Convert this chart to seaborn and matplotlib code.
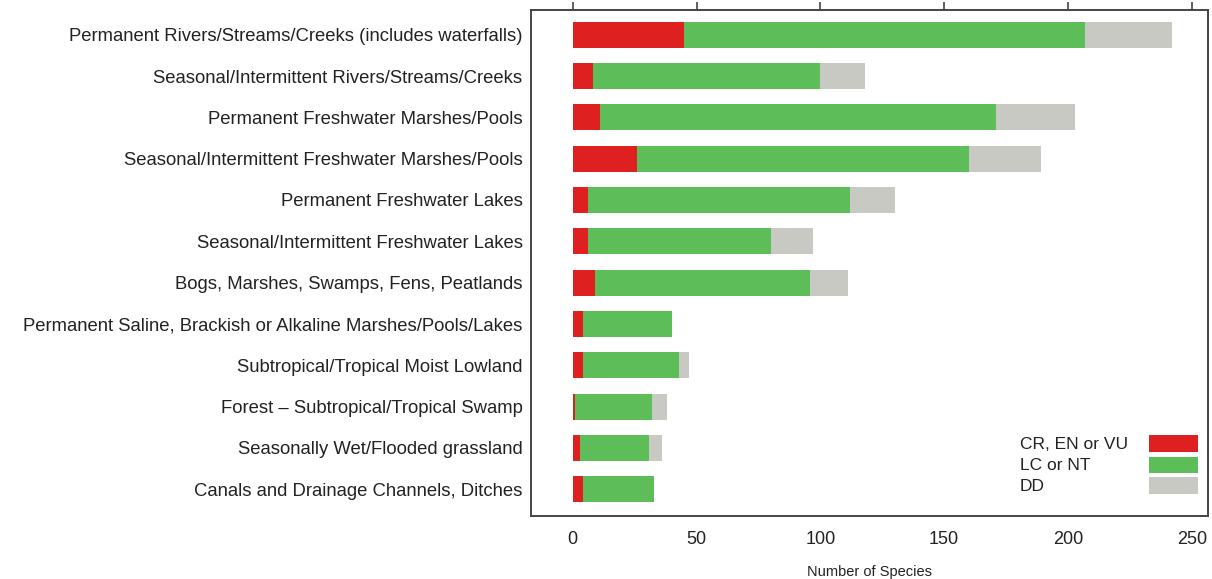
import matplotlib
matplotlib.use("Agg")
import matplotlib.pyplot as plt
from matplotlib.patches import Rectangle
import seaborn as sns
import pandas as pd

categories = [
    "Permanent Rivers/Streams/Creeks (includes waterfalls)",
    "Seasonal/Intermittent Rivers/Streams/Creeks",
    "Permanent Freshwater Marshes/Pools",
    "Seasonal/Intermittent Freshwater Marshes/Pools",
    "Permanent Freshwater Lakes",
    "Seasonal/Intermittent Freshwater Lakes",
    "Bogs, Marshes, Swamps, Fens, Peatlands",
    "Permanent Saline, Brackish or Alkaline Marshes/Pools/Lakes",
    "Subtropical/Tropical Moist Lowland",
    "Forest \u2013 Subtropical/Tropical Swamp",
    "Seasonally Wet/Flooded grassland",
    "Canals and Drainage Channels, Ditches",
]
cr_en_vu = [45, 8, 11, 26, 6, 6, 9, 4, 4, 1, 3, 4]
lc_nt = [162, 92, 160, 134, 106, 74, 87, 36, 39, 31, 28, 29]
dd = [35, 18, 32, 29, 18, 17, 15, 0, 4, 6, 5, 0]
series_labels = ["CR, EN or VU", "LC or NT", "DD"]
x_ticks = [0, 50, 100, 150, 200, 250]

colors = ["#de2020", "#5dbd58", "#c9c9c3"]

df = pd.DataFrame({
    "cat": categories,
    "cr": cr_en_vu,
    "lc": lc_nt,
    "dd": dd,
})
df["c1"] = df["cr"]
df["c2"] = df["cr"] + df["lc"]
df["c3"] = df["c2"] + df["dd"]

sns.set_style("white")
plt.rcParams["font.family"] = ["Liberation Sans", "DejaVu Sans"]

fig = plt.figure(figsize=(12.12, 5.79), dpi=100)
ax = fig.add_axes([0.438, 0.1088, 0.5586, 0.874])

for col, c in zip(["c3", "c2", "c1"], colors[::-1]):
    sns.barplot(data=df, x=col, y="cat", orient="h", color=c, saturation=1,
                width=0.63, linewidth=0, edgecolor="none", ax=ax, errorbar=None)

ax.set_xlim(-16.9, 256.5)
ax.set_ylim(11.65, -0.6)
ax.set_xticks(x_ticks)
ax.set_xlabel("Number of Species", fontsize=10.5, color="#222222", labelpad=12)
ax.set_ylabel("")
ax.tick_params(axis="x", which="both", direction="out", length=6, width=1.2,
               color="#444444", top=True, labeltop=False, labelsize=13,
               labelcolor="#222222", pad=5)
ax.tick_params(axis="y", length=0, labelsize=13.3, labelcolor="#222222", pad=6)
for s in ax.spines.values():
    s.set_visible(True)
    s.set_color("#444444")
    s.set_linewidth(1.4)

# legend: left-aligned labels, swatches to the right
W, H = 1212.0, 579.0
label_x = 1020 / W
sw_x0, sw_x1 = 1149 / W, 1198 / W
rows = [(435, 452), (457, 473), (477, 494)]
for (y0, y1), c, lab in zip(rows, colors, series_labels):
    fig.patches.append(Rectangle((sw_x0, 1 - y1 / H), sw_x1 - sw_x0, (y1 - y0) / H,
                                 transform=fig.transFigure, facecolor=c,
                                 edgecolor="none", figure=fig))
    fig.text(label_x, 1 - ((y0 + y1) / 2 + 1) / H, lab, fontsize=12.5,
             color="#222222", ha="left", va="center")

fig.savefig("out.png", dpi=100)
